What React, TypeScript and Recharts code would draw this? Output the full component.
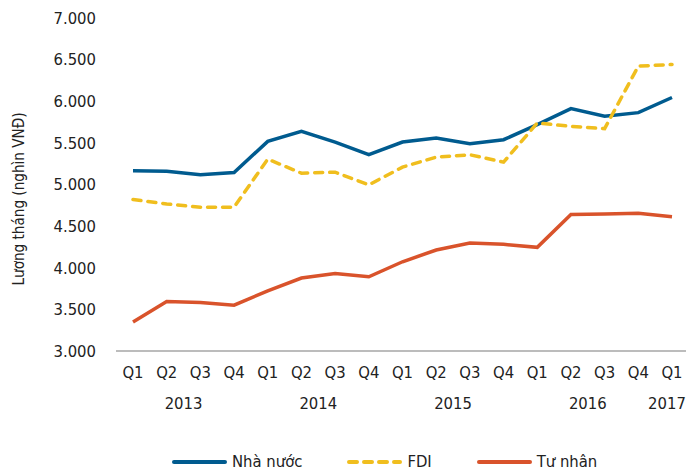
import React from 'react'
import { LineChart, Line, XAxis, YAxis } from 'recharts'

const quarters = ['Q1', 'Q2', 'Q3', 'Q4', 'Q1', 'Q2', 'Q3', 'Q4', 'Q1', 'Q2', 'Q3', 'Q4', 'Q1', 'Q2', 'Q3', 'Q4', 'Q1']
const years = ['2013', '2013', '2013', '2013', '2014', '2014', '2014', '2014', '2015', '2015', '2015', '2015', '2016', '2016', '2016', '2016', '2017']

const nhaNuoc = [5165, 5160, 5117, 5145, 5518, 5639, 5510, 5360, 5510, 5558, 5490, 5538, 5720, 5912, 5819, 5863, 6045]
const fdi = [4819, 4767, 4727, 4727, 5305, 5136, 5148, 4996, 5209, 5329, 5357, 5269, 5738, 5699, 5671, 6422, 6442]
const tuNhan = [3349, 3594, 3582, 3550, 3723, 3876, 3932, 3892, 4072, 4213, 4297, 4281, 4245, 4639, 4647, 4655, 4614]

const yTicks = [3000, 3500, 4000, 4500, 5000, 5500, 6000, 6500, 7000]

const series = [
  { key: 'nhaNuoc', name: 'Nhà nước', color: '#005b8f', dash: undefined },
  { key: 'fdi', name: 'FDI', color: '#f0be1e', dash: '8 7' },
  { key: 'tuNhan', name: 'Tư nhân', color: '#d9532b', dash: undefined }
]

const data = quarters.map((q, i) => ({
  q,
  year: years[i],
  nhaNuoc: nhaNuoc[i],
  fdi: fdi[i],
  tuNhan: tuNhan[i]
}))

const FONT = '"Liberation Sans Narrow", "DejaVu Sans Condensed", "Arial Narrow", sans-serif'

const fmt = (v: number) => String(v).replace(/^(\d)(\d{3})$/, '$1.$2')

// Quarter label plus year under the middle of each year group
const QuarterTick = (props: any) => {
  const { x, y, payload, index } = props
  const i = index ?? payload.index
  const yr = years[i]
  const first = years.indexOf(yr)
  const last = years.lastIndexOf(yr)
  const showYear = i === Math.floor((first + last) / 2)
  const step = 33.7
  // keep the last year label inside the picture
  const yearX = Math.min(x + ((first + last) / 2 - i) * step, 667)
  return (
    <g>
      <text x={x} y={y + 19} textAnchor="middle" fontSize={16.5} fill="#222" fontFamily={FONT}>
        {payload.value}
      </text>
      {showYear && (
        <text x={yearX} y={y + 50} textAnchor="middle" fontSize={16.5} fill="#222" fontFamily={FONT}>
          {yr}
        </text>
      )}
    </g>
  )
}

const YLabel = () => {
  const cx = 18
  const cy = 199
  return (
    <text
      x={cx}
      y={cy}
      transform={`rotate(-90, ${cx}, ${cy})`}
      textAnchor="middle"
      dominantBaseline="central"
      fontSize={16.5}
      fill="#222"
      fontFamily={FONT}
      textLength={173}
      lengthAdjust="spacingAndGlyphs"
    >
      Lương tháng (nghìn VNĐ)
    </text>
  )
}

export default function App() {
  return (
    <div style={{ position: 'absolute', left: 0, top: 0, width: 686, height: 473, background: '#fff' }}>
      <LineChart width={686} height={473} data={data} margin={{ top: 18, right: 0, left: 0, bottom: 0 }}>
        <XAxis
          dataKey="q"
          interval={0}
          axisLine={{ stroke: '#a6a6a6', strokeWidth: 1.5 }}
          tickLine={false}
          padding={{ left: 17, right: 14 }}
          tick={<QuarterTick />}
          height={122}
        />
        <YAxis
          domain={[3000, 7000]}
          ticks={yTicks}
          width={116}
          axisLine={false}
          tickLine={false}
          tickSize={0}
          tickMargin={20}
          tickFormatter={fmt}
          tick={{ fontSize: 16.5, fill: '#222', fontFamily: FONT }}
          label={<YLabel />}
        />
        {series.map(s => (
          <Line
            key={s.key}
            dataKey={s.key}
            name={s.name}
            stroke={s.color}
            strokeWidth={3.5}
            strokeDasharray={s.dash}
            strokeLinecap={s.dash ? 'round' : 'butt'}
            dot={false}
            activeDot={false}
            isAnimationActive={false}
          />
        ))}
      </LineChart>
      <div
        style={{
          position: 'absolute',
          top: 452,
          left: 172,
          display: 'flex',
          alignItems: 'center',
          fontFamily: FONT,
          fontSize: 16.5,
          color: '#222'
        }}
      >
        {series.map((s, i) => (
          <div key={s.key} style={{ display: 'flex', alignItems: 'center', marginLeft: i === 0 ? 0 : 45 }}>
            <svg width={55} height={8} style={{ marginRight: 5 }}>
              <line
                x1={2}
                y1={4}
                x2={53}
                y2={4}
                stroke={s.color}
                strokeWidth={4}
                strokeDasharray={s.dash}
                strokeLinecap="round"
              />
            </svg>
            <span>{s.name}</span>
          </div>
        ))}
      </div>
    </div>
  )
}
